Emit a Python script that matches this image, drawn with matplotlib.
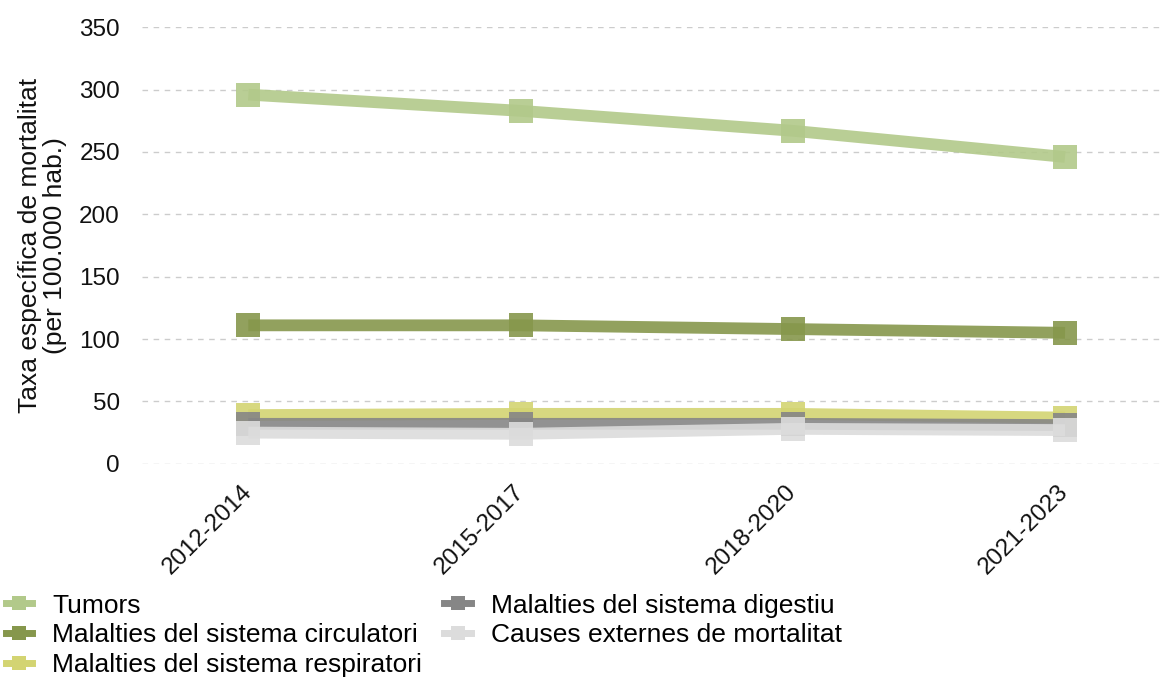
import matplotlib.pyplot as plt
from matplotlib.lines import Line2D

plt.rcParams['font.family'] = ['Liberation Sans', 'DejaVu Sans']

periods = ['2012-2014', '2015-2017', '2018-2020', '2021-2023']
tumors = [296, 283, 267, 246]
circulatori = [111, 111, 108, 105]
respiratori = [39, 40, 40, 37]
digestiu = [32, 32, 32, 31]
externes = [25, 24, 28, 27]

series = [
    ('Tumors', tumors, '#b2c98a'),
    ('Malalties del sistema circulatori', circulatori, '#86974c'),
    ('Malalties del sistema respiratori', respiratori, '#d3d472'),
    ('Malalties del sistema digestiu', digestiu, '#868686'),
    ('Causes externes de mortalitat', externes, '#dcdcdc'),
]

fig = plt.figure(figsize=(11.65, 6.82), dpi=100)
ax = fig.add_axes([0.122, 0.32, 0.874, 0.64])

x = list(range(len(periods)))
handles = []
for name, vals, col in series:
    ax.plot(x, vals, color=col, lw=8.5, alpha=0.9, marker='s', markersize=17,
            markeredgewidth=0, solid_capstyle='butt', clip_on=False)
    handles.append(Line2D([], [], color=col, lw=5, marker='s', markersize=10,
                          markeredgewidth=0, label=name))

ax.set_ylim(0, 350)
ax.set_xlim(-0.39, 3.35)
ax.set_yticks(range(0, 351, 50))
ax.set_xticks(x)
ax.set_xticklabels(periods, rotation=45, ha='right', va='center',
                   rotation_mode='anchor')
ax.tick_params(axis='both', length=0, labelsize=17.5, labelcolor='#111111')
ax.tick_params(axis='y', pad=16)
ax.tick_params(axis='x', pad=18)
ax.grid(axis='y', color='#cccccc', linestyle=(0, (4, 4)), lw=1)
ax.set_axisbelow(True)
for s in ax.spines.values():
    s.set_visible(False)

ax.set_ylabel('Taxa específica de mortalitat\n(per 100.000 hab.)', fontsize=19,
              color='#111111', linespacing=1.05, labelpad=9)

fig.legend(handles=handles, ncol=2, loc='upper left',
           bbox_to_anchor=(-0.004, 0.145), bbox_transform=fig.transFigure,
           frameon=False, fontsize=19, handlelength=1.0, handletextpad=0.75,
           labelspacing=0.22, columnspacing=0.85, borderaxespad=0)

fig.savefig('out.png', dpi=100)
